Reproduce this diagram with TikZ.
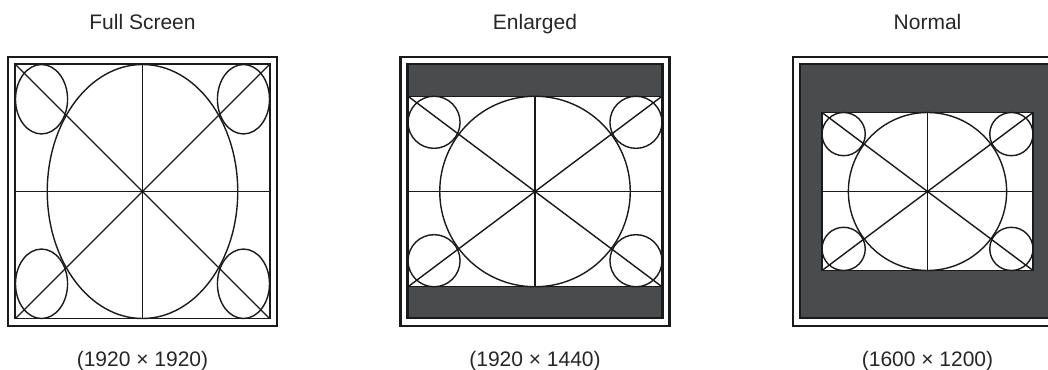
\documentclass[tikz,border=0pt]{standalone}
\usepackage{fontspec}
\setmainfont{Liberation Sans}
\definecolor{scInk}{HTML}{1A1A1A}
\definecolor{scBar}{HTML}{4A4B4D}
\definecolor{scText}{HTML}{262626}

% test pattern: centre x, centre y, width, height
\newcommand{\testcard}[4]{%
  \draw[card,fill=white] ({#1-#3/2},{#2-#4/2}) rectangle ({#1+#3/2},{#2+#4/2});
  \draw[card] ({#1-#3/2},{#2-#4/2}) -- ({#1+#3/2},{#2+#4/2});
  \draw[card] ({#1-#3/2},{#2+#4/2}) -- ({#1+#3/2},{#2-#4/2});
  \draw[card] ({#1-#3/2},#2) -- ({#1+#3/2},#2);
  \draw[card] (#1,{#2-#4/2}) -- (#1,{#2+#4/2});
  \draw[card] (#1,#2) ellipse [x radius={0.375*#3}, y radius={#4/2}];
  \foreach \sx in {-1,1}
    \foreach \sy in {-1,1}
      \draw[card] ({#1+\sx*0.3975*#3},{#2+\sy*0.3633*#4})
        ellipse [x radius={0.1025*#3}, y radius={0.1367*#4}];
}

\begin{document}
\begin{tikzpicture}[x=1pt,y=-1pt,
                    card/.style={draw=scInk,line width=1.4pt},
                    bezel/.style={draw=scInk,line width=2.6pt},
                    screen/.style={draw=scInk,fill=scBar,line width=2.2pt},
                    caption/.style={text=scText,font=\fontsize{21}{25}\selectfont,
                                    anchor=base,inner sep=0pt}]
  \useasboundingbox (0,0) rectangle (1048,369);
  \clip (0,0) rectangle (1048,369);
  \foreach \cx/\w/\h/\mode/\res [count=\i] in
      {142.5/254/254/Full Screen/1920 × 1920,
       535/254/190.5/Enlarged/1920 × 1440,
       927.5/211/158/Normal/1600 × 1200} {
    \draw[bezel] (\cx-134.5,57) rectangle (\cx+134.5,326);
    \draw[screen] (\cx-127.5,64) rectangle (\cx+127.5,318);
    \testcard{\cx}{191.5}{\w}{\h}
    \node[caption] (mode\i) at (\cx,30) {\mode};
    \node[caption] (res\i) at (\cx,366) {(\res)};
  }
\end{tikzpicture}
\end{document}
